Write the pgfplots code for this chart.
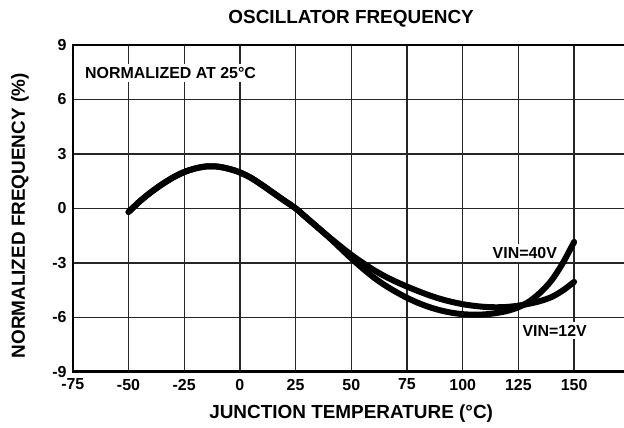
\documentclass[border=0pt]{standalone}
\usepackage{fontspec}
\setmainfont{Liberation Sans}
\usepackage{pgfplots}
\pgfplotsset{compat=1.18}
\newcommand{\bigf}{\fontsize{19}{22}\selectfont\bfseries}
\newcommand{\smf}{\fontsize{16}{18}\selectfont\bfseries}
\begin{document}
\begin{tikzpicture}
\path[use as bounding box] (0,0) rectangle (624bp,428bp);
\begin{axis}[
  at={(72.8bp,56.3bp)}, anchor=south west,
  scale only axis, width=551.2bp, height=326.7bp,
  xmin=-75, xmax=172.4, ymin=-9, ymax=9,
  xtick={-75,-50,-25,0,25,50,75,100,125,150},
  ytick={-9,-6,-3,0,3,6,9},
  xticklabels={-75,-50,-25,0,25,50,75,100,125,150},
  yticklabels={-9,-6,-3,0,3,6,9},
  major tick length=0pt,
  grid=major,
  major grid style={line width=1.4bp, black!85},
  axis line style={draw=none},
  clip=false,
  tick label style={font=\smf, inner sep=0pt},
  xticklabel style={anchor=north, yshift=-7bp},
  yticklabel style={anchor=east, xshift=-6bp},
  title={OSCILLATOR FREQUENCY},
  title style={at={(rel axis cs:0.505,1.049)}, anchor=base, inner sep=0pt, font=\bigf},
  xlabel={JUNCTION TEMPERATURE (°C)},
  xlabel style={at={(rel axis cs:0.505,-0.0995)}, anchor=north, inner sep=0pt, font=\bigf},
  ylabel={NORMALIZED FREQUENCY (\%)},
  ylabel style={at={(rel axis cs:-0.0958,0.477)}, anchor=center, inner sep=0pt, font=\bigf},
]
\node[fill=white, inner sep=3bp, anchor=west, font=\smf] at (axis cs:-70.9,7.46) {NORMALIZED AT 25°C};
\node[fill=white, inner sep=3bp, font=\smf] at (axis cs:127.9,-2.46) {VIN=40V};
\node[fill=white, inner sep=3bp, font=\smf] at (axis cs:141.3,-6.74) {VIN=12V};
\addplot[black, no markers, line width=6bp, line cap=round, smooth] coordinates {
(-50,-0.2) (-45,0.38) (-40,0.88) (-35,1.32) (-30,1.7) (-25,2.0) (-20,2.2) (-15,2.31) (-10,2.3) (-5,2.18) (0,1.98) (5,1.68) (10,1.28) (15,0.85) (20,0.42) (25,0) (30,-0.53) (35,-1.06) (40,-1.58) (45,-2.08) (50,-2.56) (55,-2.99) (60,-3.39) (65,-3.74) (70,-4.04) (75,-4.31) (80,-4.56) (85,-4.79) (90,-4.99) (95,-5.15) (100,-5.28) (105,-5.37) (110,-5.43) (115,-5.45) (120,-5.43) (125,-5.36) (130,-5.25) (135,-5.1) (140,-4.88) (145,-4.52) (150,-4.05)
};
\addplot[black, no markers, line width=6bp, line cap=round, smooth] coordinates {
(-50,-0.2) (-45,0.38) (-40,0.88) (-35,1.32) (-30,1.7) (-25,2.0) (-20,2.2) (-15,2.31) (-10,2.3) (-5,2.18) (0,1.98) (5,1.68) (10,1.28) (15,0.85) (20,0.42) (25,0) (30,-0.53) (35,-1.06) (40,-1.6) (45,-2.18) (50,-2.76) (55,-3.3) (60,-3.8) (65,-4.23) (70,-4.6) (75,-4.93) (80,-5.21) (85,-5.44) (90,-5.62) (95,-5.75) (100,-5.83) (105,-5.86) (110,-5.84) (115,-5.77) (120,-5.65) (125,-5.45) (130,-5.12) (135,-4.62) (140,-3.95) (145,-3.0) (150,-1.85)
};
\draw[line width=2.5bp, line join=miter] (rel axis cs:1,1) -- (rel axis cs:0,1) -- (rel axis cs:0,0) -- (rel axis cs:1,0);
\end{axis}
\end{tikzpicture}
\end{document}
